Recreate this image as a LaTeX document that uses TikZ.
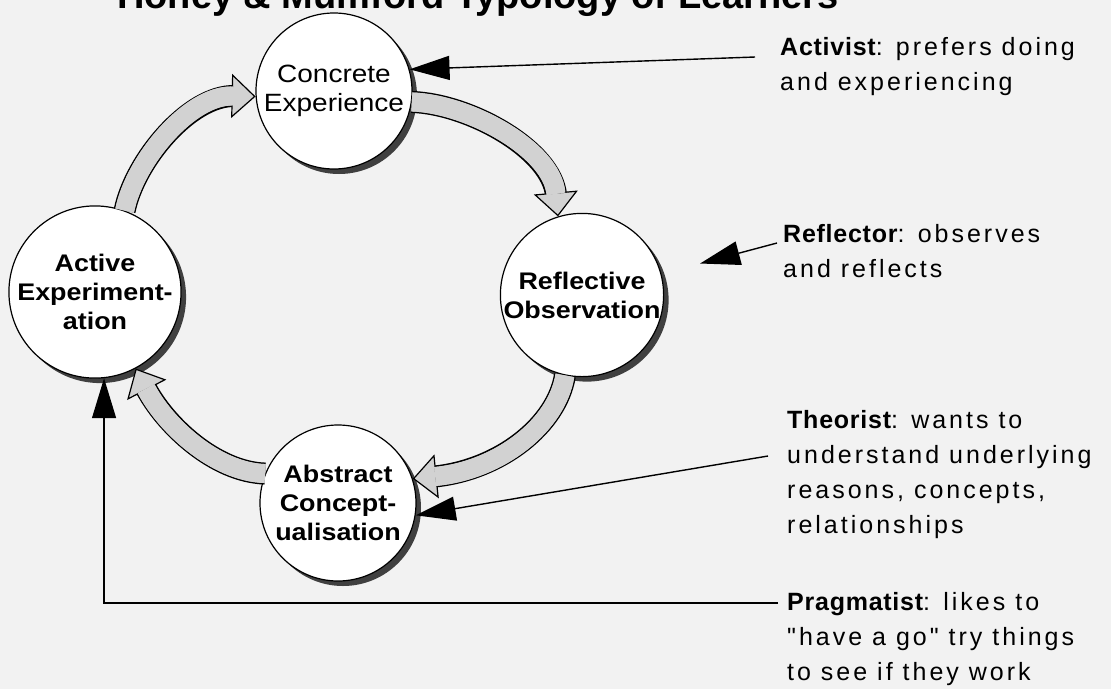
\documentclass[tikz,border=0pt]{standalone}
\usepackage{fontspec}
\setmainfont{Liberation Sans}
\newfontfamily\stagefont[FakeStretch=1.12]{Liberation Sans}
\newfontfamily\notefont[LetterSpace=12]{Liberation Sans}
\newfontfamily\keyfont[LetterSpace=3]{Liberation Sans}
\newcommand{\keyword}[1]{{\keyfont\bfseries #1}}
\usetikzlibrary{arrows.meta,shadows}

\tikzset{
  stage/.style={circle,draw,line width=1.2pt,fill=white,minimum size=156pt,inner sep=0pt,align=center,
    font=\stagefont\bfseries\fontsize{24}{29}\selectfont,
    drop shadow={shadow xshift=5pt,shadow yshift=-5pt,fill=black!75,opacity=1}},
  note/.style={anchor=north west,inner sep=0pt,align=left,font=\notefont\fontsize{25}{35}\selectfont},
  pointer/.style={line width=1.4pt,-{Triangle[length=40pt,width=24pt]}},
}

\begin{document}
\begin{tikzpicture}[x=1pt,y=-1pt]
  \useasboundingbox (0,0) rectangle (1111,689);
  \fill[black!5] (0,0) rectangle (1111,689);
  \node[anchor=base,font=\bfseries\fontsize{38}{44}\selectfont] (title) at (478,8) {Honey \& Mumford Typology of Learners};

  % the four stages
  \node[stage,font=\stagefont\fontsize{25}{29}\selectfont] (ce) at (334,91) {Concrete\\Experience};
  \node[stage] (ro) at (582,295) {Reflective\\Observation};
  \node[stage] (ac) at (338,503) {Abstract\\Concept-\\ualisation};
  \node[stage] (ae) at (95,292) {Active\\Experiment-\\ation};

  % cycle arrows
  \foreach \s/\p/\q/\e in {ce.-8/{470,104}/{552,150}/ro.107, ro.-102/{557,425}/{500,470}/ac.18,
      ac.158/{215,472}/{165,425}/ae.-62, ae.70/{135,160}/{190,95}/ce.184}{
    \draw[line width=22pt,shorten >=21pt] (\s) .. controls (\p) and (\q) .. (\e);
    \draw[line width=19pt,gray!35,-{Triangle[length=24pt,width=44pt,line width=1.2pt,color=black,fill=gray!35]}] (\s) .. controls (\p) and (\q) .. (\e);
    \draw[line width=19pt,gray!35,shorten >=22.5pt] (\s) .. controls (\p) and (\q) .. (\e);
  }

  \coordinate (actl) at (755,57);
  \coordinate (refl) at (777,243);
  \coordinate (thel) at (768,456);
  \coordinate (pral) at (778,603);
  \draw[pointer] (actl) -- (ce.16);
  \draw[pointer,shorten >=40pt] (refl) -- (ro);
  \draw[pointer] (thel) -- (ac.-9);
  \draw[pointer] (pral) -| (ae.-84);

  \node[note] (activist) at (780,37) {\keyword{Activist}: prefers doing\\and experiencing};
  \node[note] (reflector) at (783,224) {\keyword{Reflector}: observes\\and reflects};
  \node[note] (theorist) at (787,410) {\keyword{Theorist}: wants to\\understand underlying\\reasons, concepts,\\relationships};
  \node[note] (pragmatist) at (787,592) {\keyword{Pragmatist}: likes to\\"have a go" try things\\to see if they work};
\end{tikzpicture}
\end{document}
